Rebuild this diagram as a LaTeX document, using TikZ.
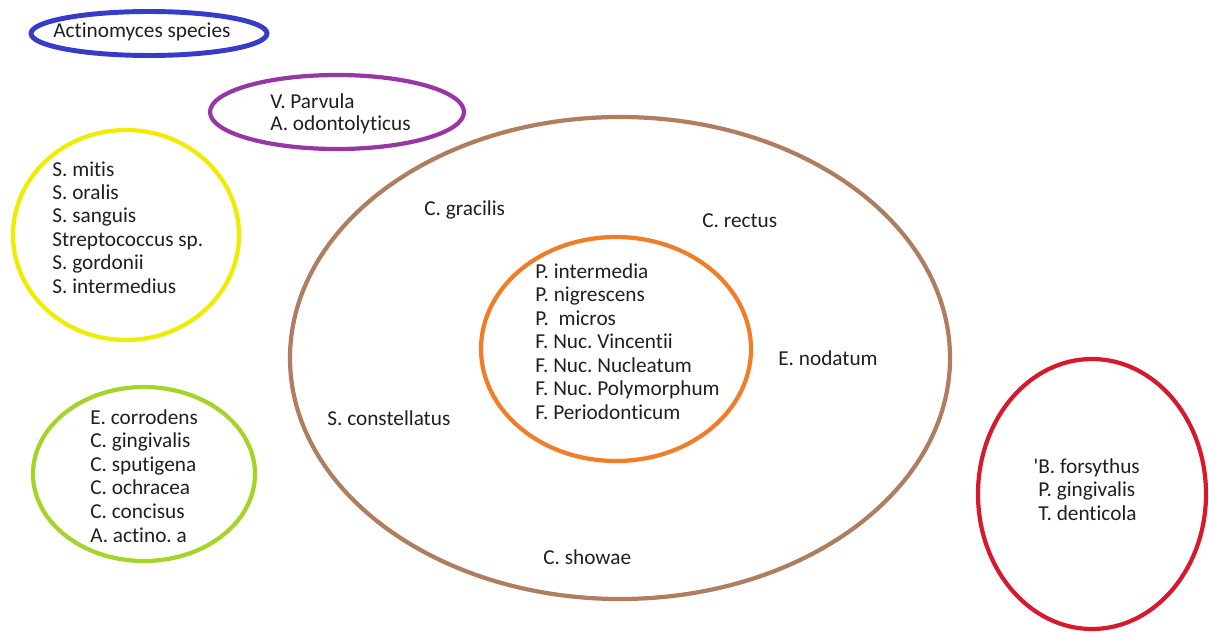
\documentclass[tikz,border=0pt]{standalone}
\usepackage{fontspec}
\setmainfont[Ligatures=NoCommon]{Carlito}
\usepackage{tikz}
\usetikzlibrary{calc}
\definecolor{ringblue}{RGB}{55,60,200}
\definecolor{ringpurple}{RGB}{150,55,165}
\definecolor{ringyellow}{RGB}{240,236,0}
\definecolor{ringgreen}{RGB}{165,212,40}
\definecolor{ringbrown}{RGB}{175,125,95}
\definecolor{ringorange}{RGB}{240,125,40}
\definecolor{ringred}{RGB}{215,25,45}
\frenchspacing
\tikzset{
    myring/.style={line width=2.4pt},
    mylabel/.style={anchor=base west,inner sep=0pt,text=black!88,font=\fontsize{12.1}{14}\selectfont},
}
\begin{document}
\begin{tikzpicture}[x=0.02cm,y=-0.02cm]
  \useasboundingbox (0,0) rectangle (1209,632);

  %---------------- Actinomyces ----------------
            \coordinate (Oblue) at (149,33.5);
            \draw[myring,line width=2.8pt,draw=ringblue] (Oblue) ellipse [x radius=118, y radius=22];
            \node[mylabel] (actino) at (53,37) {Actinomyces species};

  %---------------- purple ----------------
            \coordinate (Opurple) at (337,112);
            \draw[myring,draw=ringpurple] (Opurple) ellipse [x radius=127, y radius=37];
            \node[mylabel] (purple-1) at (270,108) {V. Parvula};
            \node[mylabel] (purple-2) at (270,130) {A. odontolyticus};

  %---------------- yellow ----------------
            \coordinate (Oyellow) at (126,235);
            \draw[myring,draw=ringyellow] (Oyellow) ellipse [x radius=113, y radius=105];
            \foreach \sp [count=\i] in {S. mitis, S. oralis, S. sanguis, Streptococcus sp., S. gordonii, S. intermedius}{
                \node[mylabel] (yellow-\i) at (52,{176+23.4*(\i-1)}) {\sp};
            }

  %---------------- green ----------------
            \coordinate (Ogreen) at (144,474);
            \draw[myring,draw=ringgreen] (Ogreen) ellipse [x radius=111, y radius=87];
            \foreach \sp [count=\i] in {E. corrodens, C. gingivalis, C. sputigena, C. ochracea, C. concisus, A. actino. a}{
                \node[mylabel] (green-\i) at (90,{424+23.6*(\i-1)}) {\sp};
            }

  %---------------- brown ----------------
            \coordinate (Obrown) at (620,358);
            \draw[myring,draw=ringbrown] (Obrown) ellipse [x radius=330, y radius=241];
            \node[mylabel] (gracilis) at (424,215) {C. gracilis};
            \node[mylabel] (rectus) at (702,227) {C. rectus};
            \node[mylabel] (nodatum) at (778,365) {E. nodatum};
            \node[mylabel] (constellatus) at (327,425) {S. constellatus};
            \node[mylabel] (showae) at (543,564) {C. showae};

  %---------------- orange ----------------
            \coordinate (Oorange) at (616,349);
            \draw[myring,draw=ringorange] (Oorange) ellipse [x radius=135, y radius=112];
            \foreach \sp [count=\i] in {P. intermedia, P. nigrescens, {P.\ \ micros}, F. Nuc. Vincentii, F. Nuc. Nucleatum, F. Nuc. Polymorphum, F. Periodonticum}{
                \node[mylabel] (orange-\i) at (535,{278+23.5*(\i-1)}) {\sp};
            }

  %---------------- red ----------------
            \coordinate (Ored) at (1092,494);
            \draw[myring,draw=ringred] (Ored) ellipse [x radius=114, y radius=135];
            \node[mylabel] (red-1) at (1038,473) {\llap{\textquotesingle}B. forsythus};
            \node[mylabel] (red-2) at (1038,496.5) {P. gingivalis};
            \node[mylabel] (red-3) at (1038,520) {T. denticola};

\end{tikzpicture}
\end{document}
